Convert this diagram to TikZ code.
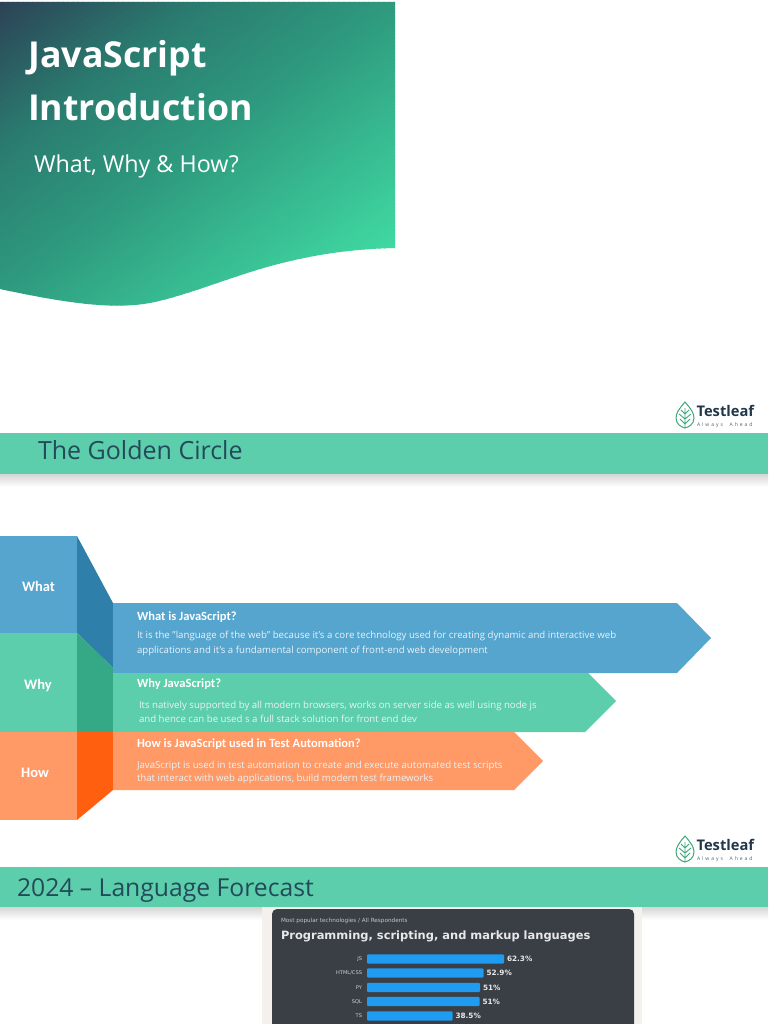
\documentclass[tikz,border=0pt]{standalone}
\usepackage{fontspec}
\setmainfont{Open Sans}
\newfontfamily\cali{Carlito}
\newfontfamily\dejav{DejaVu Sans}
\newfontfamily\spaced[LetterSpace=40]{Open Sans}
\definecolor{cgreen}{HTML}{5DCEAB}
\definecolor{cblue}{HTML}{55A5CF}
\definecolor{corange}{HTML}{FF9966}
\definecolor{dblue}{HTML}{2E80AB}
\definecolor{dgreen}{HTML}{35A986}
\definecolor{dorange}{HTML}{FF5F0F}
\definecolor{inktitle}{HTML}{234A5A}
\definecolor{chartbg}{HTML}{3A3F45}
\definecolor{barblue}{HTML}{1F9BF2}
\definecolor{chartmargin}{HTML}{F4F0EC}
\definecolor{leafgreen}{HTML}{3FA67C}
\definecolor{logoink}{HTML}{22384A}
\definecolor{gA}{HTML}{2C4256}
\definecolor{gM}{HTML}{2A7B6F}
\definecolor{gN}{HTML}{2E9A7E}
\definecolor{gB}{HTML}{40DAA3}
\tikzset{
  x=1pt,y=-1pt,
  every node/.style={inner sep=0pt,outer sep=0pt},
  banner/.style={fill=cgreen,draw=none},
  bannertext/.style={anchor=west,text=inktitle},
  lefttext/.style={anchor=center,text=white,font=\cali\bfseries\fontsize{14.5}{16}\selectfont},
  headtext/.style={anchor=west,text=white,font=\cali\bfseries\fontsize{12.5}{14}\selectfont},
  bodytext/.style={anchor=west,text=white!86!cblue,font=\fontsize{9.65}{11}\selectfont},
  barrect/.style={fill=barblue,rounded corners=1pt},
  barlabel/.style={anchor=east,text=white!75!chartbg,font=\dejav\fontsize{5.1}{6}\selectfont},
  barvalue/.style={anchor=west,text=white!88!chartbg,font=\dejav\bfseries\fontsize{7.3}{9}\selectfont},
  pics/logo/.style={code={
    \draw[leafgreen,line width=1pt,fill=white] (0,-14) .. controls (6,-7) and (9,-3) .. (9,2) .. controls (9,8) and (4,11) .. (0,12) .. controls (-4,11) and (-9,8) .. (-9,2) .. controls (-9,-3) and (-6,-7) .. (0,-14) -- cycle;
    \draw[leafgreen,line width=.9pt] (0,-8) -- (0,12) (0,8) -- (-5,3) (0,8) -- (5,3) (0,3) -- (-6,-2) (0,3) -- (6,-2) (0,-2) -- (-4,-6) (0,-2) -- (4,-6);
    \node[anchor=west,text=logoink,font=\fontsize{14.7}{16}\selectfont\bfseries] at (11.5,-5) {Testleaf};
    \node[anchor=west,text=logoink!80,font=\spaced\fontsize{5}{6}\selectfont] at (12,9.5) {Always\ \ Ahead};
  }}
}
\begin{document}
\begin{tikzpicture}
\useasboundingbox (0,0) rectangle (768,1024);
\fill[white] (0,0) rectangle (768,1024);

% title wave with a diagonal gradient: x + 1.36 y = const
\begin{scope}
\clip (0,2) -- (395,2) -- (395,248) .. controls (350,249) and (310,255) .. (267,267) .. controls (225,279) and (185,296) .. (150,303) .. controls (115,309) and (75,305) .. (0,289) -- cycle;
\foreach \i in {0,...,146}{
  \pgfmathsetmacro{\t}{\i/146}
  \pgfmathsetmacro{\mixa}{\t<0.27 ? 100*(1-\t/0.27) : 0}
  \pgfmathsetmacro{\mixb}{(\t>=0.27 && \t<0.54) ? 100*(1-(\t-0.27)/0.27) : 0}
  \pgfmathsetmacro{\mixc}{\t>=0.54 ? 100*(\t-0.54)/0.46 : 0}
  \ifdim\t pt<0.27pt \colorlet{gC}{gA!\mixa!gM}\else
    \ifdim\t pt<0.54pt \colorlet{gC}{gM!\mixb!gN}\else \colorlet{gC}{gB!\mixc!gN}\fi\fi
  \pgfmathsetmacro{\d}{\t*732}
  \pgfmathsetmacro{\dd}{\d+6}
  \fill[gC] (\d,0) -- (\dd,0) -- ({\dd-544},400) -- ({\d-544},400) -- cycle;
}
\end{scope}
\node[anchor=west,text=white,font=\bfseries\fontsize{35.7}{38}\selectfont] (t1) at (28.5,58) {JavaScript};
\node[anchor=west,text=white,font=\bfseries\fontsize{35.7}{38}\selectfont] (t2) at (28,107) {Introduction};
\node[anchor=west,text=white,font=\fontsize{23.3}{26}\selectfont] (t3) at (34,166) {What, Why \& How?};

% banner 1
\shade[top color=black!16,bottom color=white] (0,474) rectangle (768,487);
\fill[banner] (0,433) rectangle (768,474);
\node[bannertext,font=\fontsize{25}{28}\selectfont] (b1) at (38,450) {The Golden Circle};
\pic at (685,416) {logo};

% left column
\fill[cblue] (0,536) rectangle (77,633);
\fill[cgreen] (0,633) rectangle (77,732);
\fill[corange] (0,732) rectangle (77,820);
\fill[dblue] (77,536) -- (113,603) -- (113,668) -- (77,633) -- cycle;
\fill[dgreen] (77,633) -- (113,668) -- (113,732) -- (77,732) -- cycle;
\fill[dorange] (77,732) -- (113,732) -- (113,790) -- (77,820) -- cycle;
\node[lefttext] (what) at (38.5,586.5) {What};
\node[lefttext] (why) at (38,685.5) {Why};
\node[lefttext] (how) at (35,773) {How};

% arrows
\fill[cblue] (113,603) -- (677,603) -- (711,638) -- (677,673) -- (113,673) -- cycle;
\fill[cgreen] (113,673) -- (588,673) -- (616,701) -- (585,732) -- (113,732) -- cycle;
\fill[corange] (113,732) -- (514,732) -- (543,761) -- (514,790) -- (113,790) -- cycle;

\node[headtext] (h1) at (137,617) {What is JavaScript?};
\node[bodytext] (b11) at (137,636) {It is the "language of the web" because it's a core technology used for creating dynamic and interactive web};
\node[bodytext] (b12) at (137,651) {applications and it's a fundamental component of front-end web development};
\node[headtext] (h2) at (137,684) {Why JavaScript?};
\node[bodytext] (b21) at (139,705.5) {Its natively supported by all modern browsers, works on server side as well using node js};
\node[bodytext] (b22) at (139,718.5) {and hence can be used s a full stack solution for front end dev};
\node[headtext] (h3) at (137,744) {How is JavaScript used in Test Automation?};
\node[bodytext] (b31) at (137,765.5) {JavaScript is used in test automation to create and execute automated test scripts};
\node[bodytext] (b32) at (137,778.5) {that interact with web applications, build modern test frameworks};

% banner 2
\fill[chartmargin] (262,907) rectangle (642,1024);
\shade[top color=black!16,bottom color=white] (0,907) rectangle (262,920);
\shade[top color=black!16,bottom color=white] (642,907) rectangle (768,920);
\fill[banner] (0,867) rectangle (768,907);
\node[bannertext,font=\fontsize{24.7}{28}\selectfont] (b2) at (17,891) {2024 – Language Forecast};
\pic at (685,850) {logo};

% chart
\fill[chartbg,rounded corners=5pt] (272,909) rectangle (634,1040);
\node[anchor=west,text=white!70!chartbg,font=\dejav\fontsize{5.7}{7}\selectfont] (c0) at (281,921) {Most popular technologies / All Respondents};
\node[anchor=west,text=white!88!chartbg,font=\dejav\bfseries\fontsize{11.45}{13}\selectfont] (c1) at (281,936) {Programming, scripting, and markup languages};
\foreach \n/\lab/\w/\val/\yy in {a/JS/137/62.3\%/959,b/HTML\slash CSS/116.5/52.9\%/973,c/PY/113/51\%/987.5,d/SQL/112.5/51\%/1001.5,e/TS/85.5/38.5\%/1016}{
  \fill[barrect] (367,\yy-4.7) rectangle ({367+\w},\yy+4.7);
  \node[barlabel] (l\n) at (362,\yy) {\lab};
  \node[barvalue] (v\n) at ({367+\w+3},\yy) {\val};
}
\end{tikzpicture}
\end{document}
